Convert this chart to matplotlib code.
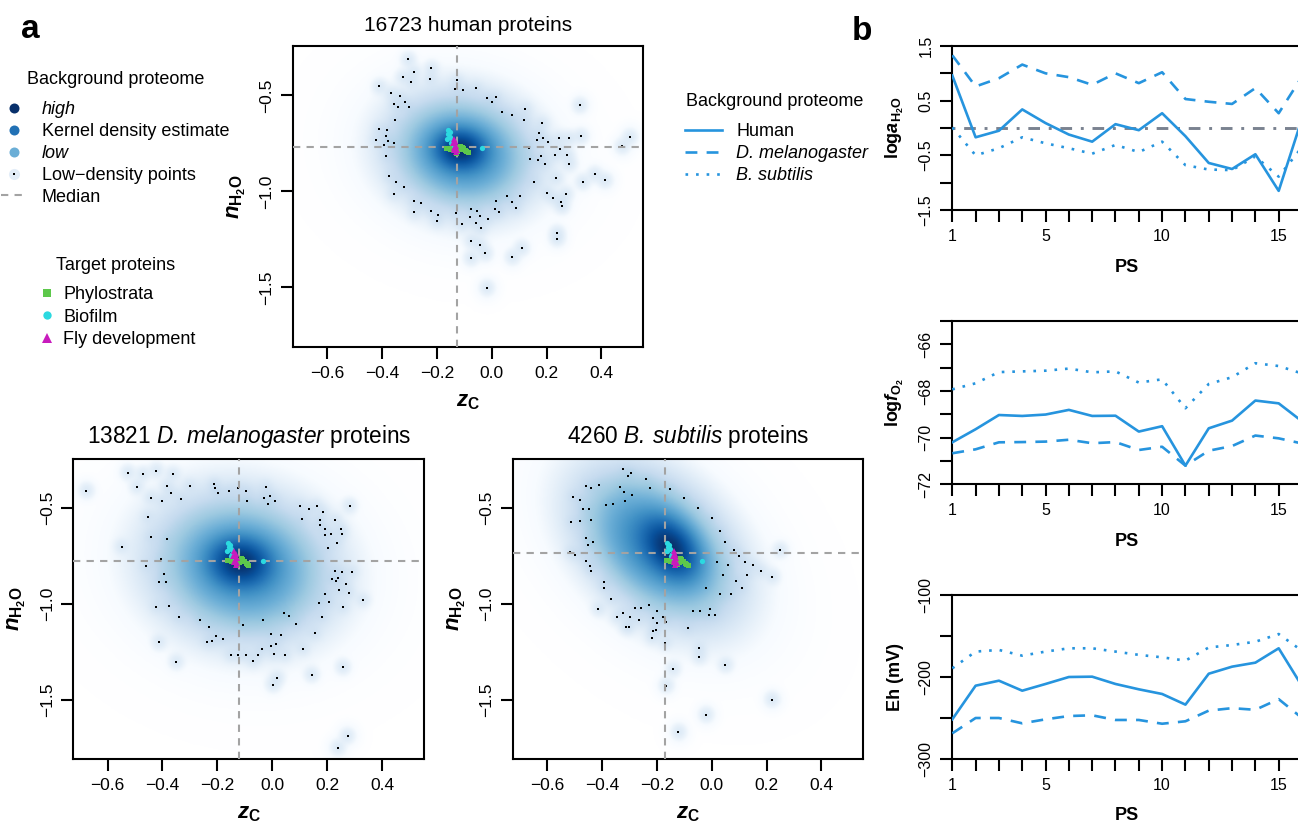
import numpy as np
import matplotlib
matplotlib.use("Agg")
import matplotlib.pyplot as plt
from matplotlib.colors import LinearSegmentedColormap
from matplotlib.lines import Line2D

plt.rcParams['font.family'] = ['Liberation Sans', 'DejaVu Sans']
plt.rcParams['mathtext.fontset'] = 'custom'
plt.rcParams['mathtext.rm'] = 'Liberation Sans'
plt.rcParams['mathtext.it'] = 'Liberation Sans:italic:bold'
plt.rcParams['mathtext.bf'] = 'Liberation Sans:bold'
plt.rcParams['mathtext.sf'] = 'Liberation Sans:italic'

# ---------------- data: panel a ----------------
zc_ticks = [-0.6, -0.4, -0.2, 0.0, 0.2, 0.4]
nh2o_ticks = [-1.5, -1.0, -0.5]
zc_lim = (-0.725, 0.553)
nh2o_lim = (-1.81, -0.243)

human_n = 16723
dmel_n = 13821
bsub_n = 4260

human_median = (-0.127, -0.770)
dmel_median = (-0.122, -0.775)
bsub_median = (-0.170, -0.733)

# kernel density shape: (center zC, center nH2O, sd zC, sd nH2O, rho, weight)
human_kde = [(-0.115, -0.780, 0.050, 0.056, -0.05, 1.0),
             (-0.110, -0.800, 0.105, 0.122, -0.10, 0.35)]
dmel_kde = [(-0.115, -0.785, 0.060, 0.068, -0.05, 1.0),
            (-0.110, -0.810, 0.128, 0.150, -0.10, 0.35)]
bsub_kde = [(-0.150, -0.710, 0.055, 0.085, -0.35, 1.0),
            (-0.200, -0.700, 0.115, 0.160, -0.40, 0.40)]

human_ld_zc = [-0.305, -0.221, -0.285, -0.324, -0.293, -0.224, -0.128, -0.133, -0.104, -0.058,
               -0.410, -0.368, -0.336, -0.356, -0.318, -0.341, -0.302, -0.352, -0.413, -0.381,
               -0.422, -0.385, -0.377, -0.392, -0.358, -0.384, -0.373, -0.349, -0.358, -0.320,
               -0.284, -0.257, -0.282, -0.221, -0.196, -0.200, -0.131, -0.110, -0.076, -0.079,
               -0.055, -0.058, -0.042, -0.040, -0.015, -0.074, -0.044, -0.076, -0.024, -0.018,
               0.015, 0.028, 0.057, 0.075, 0.088, 0.102, 0.155, 0.075, 0.109, -0.017,
               0.001, 0.015, 0.039, 0.073, 0.122, 0.119, 0.184, 0.171, 0.188, 0.164,
               0.206, 0.137, 0.139, 0.170, 0.178, 0.196, 0.200, 0.224, 0.251, 0.256,
               0.270, 0.234, 0.321, 0.325, 0.283, 0.245, 0.248, 0.230, 0.275, 0.283,
               0.332, 0.375, 0.413, 0.476, 0.504, 0.238, 0.238, 0.013]
human_ld_nh2o = [-0.312, -0.359, -0.378, -0.404, -0.429, -0.413, -0.422, -0.465, -0.474, -0.463,
                 -0.453, -0.490, -0.503, -0.543, -0.535, -0.561, -0.561, -0.630, -0.674, -0.679,
                 -0.731, -0.710, -0.735, -0.757, -0.749, -0.817, -0.919, -0.952, -1.011, -0.975,
                 -1.051, -1.062, -1.109, -1.100, -1.123, -1.154, -1.112, -1.171, -1.093, -1.135,
                 -1.102, -1.164, -1.126, -1.192, -1.142, -1.258, -1.277, -1.347, -1.323, -1.503,
                 -1.048, -1.109, -1.025, -1.055, -1.086, -1.025, -0.950, -1.342, -1.295, -0.514,
                 -0.535, -0.510, -0.585, -0.604, -0.570, -0.630, -0.646, -0.695, -0.723, -0.730,
                 -0.742, -0.773, -0.829, -0.839, -0.817, -0.855, -1.008, -1.032, -1.053, -1.077,
                 -1.013, -0.930, -0.550, -0.712, -0.723, -0.723, -0.778, -0.813, -0.809, -0.855,
                 -0.950, -0.910, -0.942, -0.764, -0.716, -1.217, -1.246, -1.091]

dmel_ld_zc = [-0.677, -0.526, -0.471, -0.422, -0.362, -0.493, -0.384, -0.368, -0.400, -0.443,
              -0.333, -0.301, -0.211, -0.209, -0.198, -0.157, -0.125, -0.094, -0.092, -0.024,
              -0.029, -0.007, -0.016, 0.011, -0.454, -0.442, -0.384, -0.549, -0.406, -0.460,
              -0.396, -0.412, -0.388, -0.422, -0.377, -0.341, -0.412, -0.349, -0.264, -0.230,
              -0.204, -0.179, -0.237, -0.219, -0.152, -0.123, -0.094, -0.108, -0.069, -0.051,
              -0.038, -0.035, -0.006, 0.032, -0.005, 0.015, 0.006, 0.047, 0.044, 0.060,
              0.087, 0.112, 0.156, 0.145, 0.004, 0.019, 0.259, 0.275, 0.241, 0.100,
              0.135, 0.162, 0.186, 0.109, 0.174, 0.174, 0.191, 0.192, 0.214, 0.230,
              0.250, 0.254, 0.237, 0.204, 0.283, 0.228, 0.255, 0.292, 0.241, 0.218,
              0.233, 0.269, 0.280, 0.245, 0.193, 0.170, 0.207, 0.259, 0.181, 0.331]
dmel_ld_nh2o = [-0.410, -0.316, -0.324, -0.305, -0.324, -0.389, -0.385, -0.422, -0.462, -0.446,
                -0.451, -0.385, -0.375, -0.397, -0.420, -0.410, -0.396, -0.410, -0.463, -0.392,
                -0.446, -0.436, -0.477, -0.462, -0.547, -0.650, -0.660, -0.703, -0.766, -0.801,
                -0.846, -0.886, -0.888, -1.015, -1.010, -1.069, -1.201, -1.303, -1.086, -1.119,
                -1.166, -1.183, -1.197, -1.196, -1.267, -1.267, -1.267, -1.109, -1.298, -1.267,
                -1.234, -1.084, -1.157, -1.164, -1.218, -1.211, -1.262, -1.267, -1.048, -1.064,
                -1.103, -1.234, -1.154, -1.370, -1.422, -1.387, -1.331, -1.691, -1.752, -0.490,
                -0.507, -0.490, -0.523, -0.556, -0.563, -0.589, -0.611, -0.643, -0.637, -0.563,
                -0.608, -0.634, -0.681, -0.707, -0.490, -0.829, -0.832, -0.834, -0.863, -0.872,
                -0.881, -0.898, -0.945, -0.928, -0.950, -0.994, -0.992, -1.018, -1.067, -0.980]

bsub_ld_zc = [-0.324, -0.295, -0.304, -0.240, -0.224, -0.334, -0.319, -0.291, -0.314, -0.457,
              -0.439, -0.410, -0.505, -0.479, -0.469, -0.446, -0.385, -0.361, -0.511, -0.479,
              -0.441, -0.458, -0.451, -0.432, -0.517, -0.498, -0.473, -0.457, -0.445, -0.438,
              -0.393, -0.391, -0.365, -0.413, -0.345, -0.324, -0.296, -0.303, -0.266, -0.281,
              -0.256, -0.228, -0.213, -0.200, -0.212, -0.198, -0.178, -0.166, -0.312, -0.204,
              -0.218, -0.169, -0.142, -0.166, -0.121, -0.021, -0.087, -0.045, -0.045, -0.067,
              -0.043, -0.009, -0.005, 0.014, -0.150, -0.100, -0.050, 0.000, 0.030, 0.050,
              0.080, 0.100, 0.120, 0.150, 0.060, 0.020, 0.040, 0.090, 0.130, 0.180,
              0.220, 0.250, 0.220, 0.050, 0.070, 0.030, -0.020, 0.110]
bsub_ld_nh2o = [-0.298, -0.316, -0.333, -0.349, -0.397, -0.392, -0.415, -0.432, -0.463, -0.385,
                -0.397, -0.382, -0.441, -0.458, -0.507, -0.507, -0.483, -0.479, -0.575, -0.566,
                -0.563, -0.655, -0.695, -0.676, -0.728, -0.743, -0.733, -0.775, -0.803, -0.827,
                -0.886, -0.917, -0.973, -1.025, -1.069, -1.046, -1.067, -1.121, -1.084, -1.023,
                -1.022, -1.006, -1.076, -1.098, -1.140, -1.036, -1.071, -1.093, -1.119, -1.136,
                -1.176, -1.203, -1.342, -1.427, -1.670, -1.580, -1.128, -1.232, -1.276, -1.036,
                -1.037, -1.059, -1.029, -1.059, -0.400, -0.450, -0.500, -0.550, -0.620, -0.680,
                -0.720, -0.750, -0.780, -0.800, -0.800, -0.780, -0.850, -0.880, -0.850, -0.830,
                -0.860, -0.720, -1.500, -1.320, -0.950, -0.950, -0.920, -0.920]

# target proteins
phylo_zc = [-0.166, -0.152, -0.140, -0.127, -0.115, -0.103, -0.097, -0.088,
            -0.110, -0.132, -0.120, -0.145, -0.158, -0.093, -0.125, -0.108]
phylo_nh2o = [-0.773, -0.778, -0.770, -0.790, -0.761, -0.775, -0.785, -0.796,
              -0.768, -0.800, -0.781, -0.765, -0.772, -0.790, -0.770, -0.778]
biofilm_zc = [-0.161, -0.158, -0.164, -0.152, -0.145, -0.154, -0.149, -0.137, -0.034]
biofilm_nh2o = [-0.681, -0.703, -0.726, -0.716, -0.738, -0.691, -0.750, -0.761, -0.775]
fly_zc = [-0.139, -0.133, -0.142, -0.130, -0.137, -0.127, -0.132, -0.139, -0.135]
fly_nh2o = [-0.726, -0.738, -0.750, -0.761, -0.773, -0.785, -0.796, -0.782, -0.745]

# ---------------- data: panel b ----------------
ps = list(range(1, 17))
ps_ticks = list(range(1, 17))
ps_labels = ['1', '', '', '', '5', '', '', '', '', '10', '', '', '', '', '15', '']

loga_human = [0.96, -0.17, -0.05, 0.34, 0.09, -0.12, -0.25, 0.07, -0.04, 0.27, -0.15, -0.64, -0.75, -0.48, -1.15, 0.17]
loga_dmel = [1.33, 0.76, 0.91, 1.16, 1.00, 0.93, 0.79, 1.00, 0.82, 1.02, 0.53, 0.48, 0.44, 0.73, 0.27, 0.94]
loga_bsub = [0.01, -0.50, -0.37, -0.17, -0.28, -0.37, -0.47, -0.31, -0.44, -0.25, -0.68, -0.76, -0.77, -0.52, -0.89, -0.35]
loga_ticks = [-1.5, -1.0, -0.5, 0.0, 0.5, 1.0, 1.5]
loga_labels = ['\u22121.5', '', '\u22120.5', '', '0.5', '', '1.5']

fo2_human = [-70.20, -69.64, -69.03, -69.07, -69.01, -68.81, -69.07, -69.06, -69.74, -69.51, -71.20, -69.60, -69.27, -68.41, -68.53, -69.30]
fo2_dmel = [-70.67, -70.50, -70.20, -70.19, -70.17, -70.09, -70.24, -70.19, -70.53, -70.39, -71.20, -70.56, -70.36, -69.91, -70.03, -70.25]
fo2_bsub = [-67.93, -67.67, -67.19, -67.16, -67.13, -67.04, -67.20, -67.16, -67.64, -67.50, -68.74, -67.70, -67.41, -66.81, -66.93, -67.25]
fo2_ticks = [-72, -71, -70, -69, -68, -67, -66, -65]
fo2_labels = ['\u221272', '', '\u221270', '', '\u221268', '', '\u221266', '']

eh_human = [-251.6, -210.6, -204.5, -216.7, -208.5, -200.0, -199.6, -208.5, -215.0, -220.7, -233.7, -196.0, -187.4, -182.5, -165.0, -211.0]
eh_dmel = [-268.7, -250.0, -250.0, -256.5, -251.6, -247.6, -246.7, -252.4, -252.4, -257.0, -254.0, -241.0, -238.0, -240.0, -227.0, -250.0]
eh_bsub = [-189.4, -169.0, -167.0, -174.0, -169.0, -165.0, -165.0, -169.0, -173.0, -176.0, -180.0, -164.0, -161.0, -157.0, -147.6, -168.0]
eh_ticks = [-300, -250, -200, -150, -100]
eh_labels = ['\u2212300', '', '\u2212200', '', '\u2212100']

# ---------------- styling ----------------
W, H = 1298, 824
fig = plt.figure(figsize=(W / 100, H / 100), dpi=100)

def rect(l, t, r, b):
    return [l / W, 1 - b / H, (r - l) / W, (b - t) / H]

blues9 = ["#F7FBFF", "#DEEBF7", "#C6DBEF", "#9ECAE1", "#6BAED6",
          "#4292C6", "#2171B5", "#08519C", "#08306B"]
kde_cmap = LinearSegmentedColormap.from_list("smooth", ["#FFFFFF"] + blues9)
med_col = '#A3A3A3'
green = '#5DC84B'
cyan = '#2BD9E0'
magenta = '#C81BBD'
line_col = '#2694DE'
TICK_FS = 12.5
LAB_FS = 16


def fmt(v):
    s = '%.1f' % v
    if abs(v) < 1e-9:
        s = '0.0'
    return s.replace('-', '\u2212')


def style_box(ax, lw=1.5):
    for sp in ax.spines.values():
        sp.set_linewidth(lw)
    ax.tick_params(direction='out', length=8.4, width=lw, pad=5)


def kde_image(comps, ldx, ldy):
    gx = np.linspace(zc_lim[0], zc_lim[1], 360)
    gy = np.linspace(nh2o_lim[0], nh2o_lim[1], 360)
    X, Y = np.meshgrid(gx, gy)
    D = np.zeros_like(X)
    for cx, cy, sx, sy, rho, w in comps:
        dx = (X - cx) / sx
        dy = (Y - cy) / sy
        q = (dx ** 2 - 2 * rho * dx * dy + dy ** 2) / (1 - rho ** 2)
        D += w * np.exp(-q / 2)
    peak = D.max()
    for px, py in zip(ldx, ldy):
        D += 0.0025 * peak * np.exp(-0.5 * (((X - px) / 0.016) ** 2 + ((Y - py) / 0.024) ** 2))
    D = D / D.max()
    return D ** 0.25


def proteome_panel(pos, comps, ldx, ldy, med, title, title_fs):
    ax = fig.add_axes(pos)
    img = kde_image(comps, ldx, ldy)
    ax.imshow(img, extent=[zc_lim[0], zc_lim[1], nh2o_lim[0], nh2o_lim[1]],
              origin='lower', cmap=kde_cmap, vmin=0, vmax=1, aspect='auto',
              interpolation='bilinear', zorder=0)
    ax.plot(ldx, ldy, ls='none', marker='s', ms=2.1, mew=0, color='black', zorder=2)
    ax.axvline(med[0], color=med_col, lw=1.5, ls=(0, (3.5, 3.0)), zorder=3)
    ax.axhline(med[1], color=med_col, lw=1.5, ls=(0, (3.5, 3.0)), zorder=3)
    ax.plot(phylo_zc, phylo_nh2o, ls='none', marker='s', ms=3.6, mew=0, color=green, zorder=4)
    ax.plot(biofilm_zc, biofilm_nh2o, ls='none', marker='o', ms=3.8, mew=0, color=cyan, zorder=5)
    ax.plot(fly_zc, fly_nh2o, ls='none', marker='^', ms=4.2, mew=0, color=magenta, zorder=6)
    ax.set_xlim(*zc_lim)
    ax.set_ylim(*nh2o_lim)
    ax.set_xticks(zc_ticks)
    ax.set_xticklabels([fmt(v) for v in zc_ticks], fontsize=TICK_FS)
    ax.set_yticks(nh2o_ticks)
    ax.set_yticklabels([fmt(v) for v in nh2o_ticks], fontsize=TICK_FS,
                       rotation=90, va='center')
    style_box(ax)
    ax.set_xlabel(r'$z_{\mathbf{C}}$', fontsize=LAB_FS, va='center')
    ax.set_ylabel(r'$n_{\mathbf{H_2O}}$', fontsize=LAB_FS, va='center')
    ax.xaxis.set_label_coords(0.5, -54 / 300.3)
    ax.yaxis.set_label_coords(-56 / 350.5, 0.5)
    ax.set_title(title, fontsize=title_fs, pad=11)
    return ax


proteome_panel(rect(293, 46, 643.3, 347), human_kde, human_ld_zc, human_ld_nh2o,
               human_median, '%d human proteins' % human_n, 15.0)
proteome_panel(rect(73.3, 458.7, 424, 759), dmel_kde, dmel_ld_zc, dmel_ld_nh2o,
               dmel_median, r'%d $\mathsf{D.\,melanogaster}$ proteins' % dmel_n, 16.3)
proteome_panel(rect(512.7, 458.7, 863.4, 759), bsub_kde, bsub_ld_zc, bsub_ld_nh2o,
               bsub_median, r'%d $\mathsf{B.\,subtilis}$ proteins' % bsub_n, 16.3)


def ps_panel(pos, yh, yd, yb, yticks, ylabels, ylim, ylabel, zero_line=False):
    ax = fig.add_axes(pos)
    if zero_line:
        ax.axhline(0, color='#7A8290', lw=2.1, ls=(0, (1, 3, 4, 3)), zorder=1)
    ax.plot(ps, yh, color=line_col, lw=1.9, zorder=3)
    ax.plot(ps, yd, color=line_col, lw=1.9, ls=(0, (4.5, 3.5)), zorder=3)
    ax.plot(ps, yb, color=line_col, lw=1.9, ls=(0, (1, 3)), zorder=3)
    ax.set_xlim(1, 16)
    ax.set_ylim(*ylim)
    ax.set_xticks(ps_ticks)
    ax.set_xticklabels(ps_labels, fontsize=11.5)
    ax.set_yticks(yticks)
    ax.set_yticklabels(ylabels, fontsize=11.5, rotation=90, va='center')
    style_box(ax)
    ax.set_xlabel('PS', fontsize=13, fontweight='bold', va='center')
    ax.set_ylabel(ylabel, fontsize=13, fontweight='bold', va='center')
    ax.xaxis.set_label_coords(0.5, -57 / 164)
    ax.yaxis.set_label_coords(-57 / 349.7, 0.5)
    return ax


ps_panel(rect(952.3, 46, 1302, 210), loga_human, loga_dmel, loga_bsub,
         loga_ticks, loga_labels, (-1.5, 1.5), r'$\mathbf{log}a_{\mathbf{H_2O}}$', zero_line=True)
ps_panel(rect(952.3, 321, 1302, 484.3), fo2_human, fo2_dmel, fo2_bsub,
         fo2_ticks, fo2_labels, (-72, -65), r'$\mathbf{log}f_{\mathbf{O_2}}$')
ps_panel(rect(952.3, 595, 1302, 759), eh_human, eh_dmel, eh_bsub,
         eh_ticks, eh_labels, (-300, -100), 'Eh (mV)')

# ---------------- legends ----------------
def fxy(px, py):
    return (px / W, 1 - py / H)

LEG_FS = 13
h_bg = [Line2D([], [], ls='none', marker='o', ms=7.2, mew=0, color='#08306B'),
        Line2D([], [], ls='none', marker='o', ms=7.2, mew=0, color='#2171B5'),
        Line2D([], [], ls='none', marker='o', ms=7.2, mew=0, color='#6BAED6'),
        (Line2D([], [], ls='none', marker='o', ms=8, mew=0, color='#E3EDF8'),
         Line2D([], [], ls='none', marker='s', ms=2.1, mew=0, color='black')),
        Line2D([], [], color=med_col, lw=1.5, ls=(0, (3.5, 3.0)))]
l_bg = ['high', 'Kernel density estimate', 'low', 'Low\u2212density points', 'Median']
leg1 = fig.legend(h_bg, l_bg, loc='upper left', bbox_to_anchor=fxy(1, 101.5),
                  frameon=False, fontsize=LEG_FS, borderpad=0, borderaxespad=0,
                  handlelength=1.45, handletextpad=0.82, labelspacing=0.265)
for i in (0, 2):
    leg1.get_texts()[i].set_fontstyle('italic')
fig.text(116 / W, 1 - 80 / H, 'Background proteome', fontsize=LEG_FS, ha='center', va='center')

h_tg = [Line2D([], [], ls='none', marker='s', ms=6, mew=0, color=green),
        Line2D([], [], ls='none', marker='o', ms=6, mew=0, color=cyan),
        Line2D([], [], ls='none', marker='^', ms=6.5, mew=0, color=magenta)]
l_tg = ['Phylostrata', 'Biofilm', 'Fly development']
fig.legend(h_tg, l_tg, loc='upper left', bbox_to_anchor=fxy(40, 286.5),
           frameon=False, fontsize=LEG_FS, borderpad=0, borderaxespad=0,
           handlelength=0.8, handletextpad=0.5, labelspacing=0.29)
fig.text(116 / W, 1 - 266 / H, 'Target proteins', fontsize=LEG_FS, ha='center', va='center')

h_ln = [Line2D([], [], color=line_col, lw=1.9),
        Line2D([], [], color=line_col, lw=1.9, ls=(0, (4.5, 3.5))),
        Line2D([], [], color=line_col, lw=1.9, ls=(0, (1, 3)))]
l_ln = ['Human', 'D. melanogaster', 'B. subtilis']
leg3 = fig.legend(h_ln, l_ln, loc='upper left', bbox_to_anchor=fxy(685, 123),
                  frameon=False, fontsize=13, borderpad=0, borderaxespad=0,
                  handlelength=2.05, handletextpad=0.8, labelspacing=0.28)
for i in (1, 2):
    leg3.get_texts()[i].set_fontstyle('italic')
fig.text(775 / W, 1 - 101.7 / H, 'Background proteome', fontsize=13, ha='center', va='center')

fig.text(30 / W, 1 - 30 / H, 'a', fontsize=24, fontweight='bold', ha='center', va='center')
fig.text(862 / W, 1 - 31 / H, 'b', fontsize=24, fontweight='bold', ha='center', va='center')

fig.savefig('out.png', dpi=100)
